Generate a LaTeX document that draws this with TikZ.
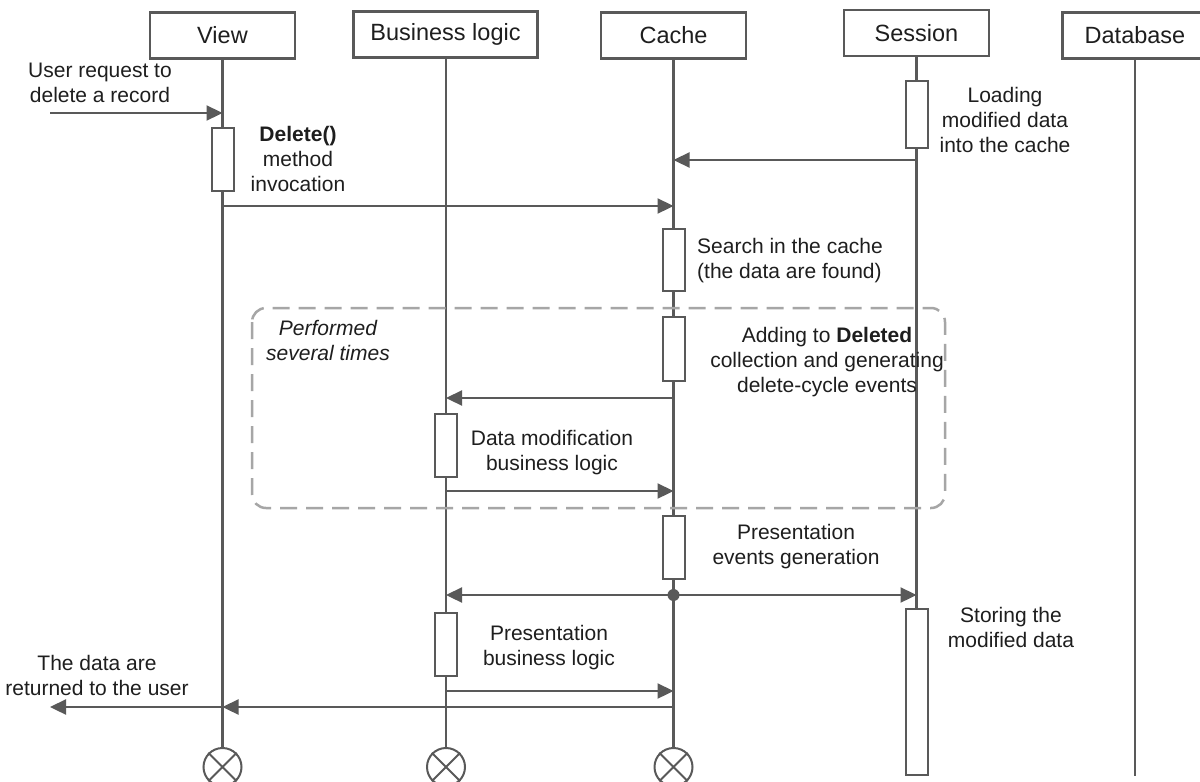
\documentclass[tikz,border=0pt]{standalone}
\usepackage{fontspec}
\setmainfont{Liberation Sans}
\usetikzlibrary{arrows.meta}
\definecolor{ink}{HTML}{1E1E1E}
\definecolor{wire}{HTML}{595959}
\definecolor{loopgray}{HTML}{A6A6A6}
\begin{document}
\begin{tikzpicture}[x=1pt,y=-1pt,
  header/.style={draw=wire, line width=2.6pt, fill=white, minimum width=145pt,
    minimum height=46pt, inner sep=0pt, text=ink, font=\fontsize{23.5}{27}\selectfont},
  lifeline/.style={draw=wire, line width=2.6pt},
  actbar/.style={draw=wire, line width=2pt, fill=white, minimum width=22pt,
    inner sep=0pt, anchor=north},
  msg/.style={draw=wire, line width=2.3pt, -{Triangle[length=16pt,width=15pt]}},
  note/.style={text=ink, font=\fontsize{21}{25}\selectfont, align=center,
    inner sep=0pt, anchor=north},
  term/.style={draw=wire, line width=2pt, circle, minimum size=38pt, inner sep=0pt},
  loopframe/.style={draw=loopgray, line width=2.5pt, rounded corners=14pt,
    dash pattern=on 17pt off 9pt},
]
\useasboundingbox (0,0) rectangle (1200,782);
\fill[white] (0,0) rectangle (1200,782);

% participants
\node[header] (view)  at (222.5,35.5) {View};
\node[header, minimum width=184pt] (logic) at (445.5,34.5) {Business logic};
\node[header] (cache) at (673.5,35.5) {Cache};
\node[header] (sess)  at (916.5,33)   {Session};
\node[header] (db)    at (1135,35.5)  {Database};

% end-of-life markers
\node[term] (viewend)  at (222.5,767) {};
\node[term] (logicend) at (446,767)   {};
\node[term] (cacheend) at (673.5,767) {};
\foreach \t in {viewend,logicend,cacheend}
  \draw[wire, line width=2pt] (\t.45) -- (\t.225) (\t.135) -- (\t.315);
\coordinate (dbend) at (1135,776);

% lifelines
\draw[lifeline] (view.south)  -- (viewend.north);
\draw[lifeline] (446,59)      -- (logicend.north);
\draw[lifeline] (cache.south) -- (cacheend.north);
\draw[lifeline] (sess.south)  -- (916.5,770);
\draw[lifeline] (db.south)    -- (dbend);

% repeated fragment
\draw[loopframe] (252,308) rectangle (945,508);

% activation bars
\node[actbar, minimum height=63pt] (vact)  at (222.5,127) {};
\node[actbar, minimum height=67pt] (sact1) at (916.5,80)  {};
\node[actbar, minimum height=62pt] (cact1) at (673.5,228) {};
\node[actbar, minimum height=64pt] (cact2) at (673.5,316) {};
\node[actbar, minimum height=63pt] (lact1) at (446,413)   {};
\node[actbar, minimum height=63pt] (cact3) at (673.5,515) {};
\node[actbar, minimum height=63pt] (lact2) at (446,612)   {};
\node[actbar, minimum height=166pt] (sact2) at (916.5,608) {};

% message anchor points
\coordinate (userin) at (50,113);
\coordinate (vin)    at (222.5,113);
\coordinate (vcall)  at (222.5,206);
\coordinate (ccall)  at (673.5,206);
\coordinate (sload)  at (916.5,160);
\coordinate (cload)  at (673.5,160);
\coordinate (cevt)   at (673.5,398);
\coordinate (levt)   at (446,398);
\coordinate (lret)   at (446,491);
\coordinate (cret)   at (673.5,491);
\coordinate (cfork)  at (673.5,595);
\coordinate (lfork)  at (446,595);
\coordinate (sfork)  at (916.5,595);
\coordinate (lpres)  at (446,691);
\coordinate (cpres)  at (673.5,691);
\coordinate (cback)  at (673.5,707);
\coordinate (vback)  at (222.5,707);
\coordinate (userout) at (50,707);

% messages
\draw[msg] (userin) -- (vin);
\draw[msg] (vcall) -- (ccall);
\draw[msg] (sload) -- (cload);
\draw[msg] (cevt) -- (levt);
\draw[msg] (lret) -- (cret);
\draw[msg] (cfork) -- (lfork);
\draw[msg] (cfork) -- (sfork);
\fill[wire] (cfork) circle (6pt);
\draw[msg] (lpres) -- (cpres);
\draw[msg] (cback) -- (vback);
\draw[msg] (vback) -- (userout);

% labels
\node[note] (lblreq)  at (100,63)  {User request to\\delete a record};
\node[note] (lbldel)  at (298,126) {\textbf{Delete()}\\method\\invocation};
\node[note] (lblload) at (1005,87) {Loading\\modified data\\into the cache};
\node[note, align=left, anchor=north west] (lblfind) at (697,238)
  {Search in the cache\\(the data are found)};
\node[note, font=\fontsize{21}{25}\selectfont\itshape] (lblloop) at (328,320)
  {Performed\\several times};
\node[note] (lbladd)  at (827,327) {Adding to \textbf{Deleted}\\collection and generating\\delete-cycle events};
\node[note] (lblmod)  at (552,430) {Data modification\\business logic};
\node[note] (lblpev)  at (796,524) {Presentation\\events generation};
\node[note] (lblstore) at (1011,607) {Storing the\\modified data};
\node[note] (lblpbl)  at (549,625) {Presentation\\business logic};
\node[note] (lblout)  at (97,655)  {The data are\\returned to the user};
\end{tikzpicture}
\end{document}
